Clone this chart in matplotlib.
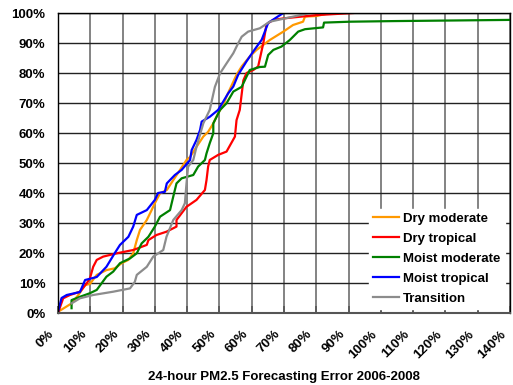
import matplotlib
matplotlib.use("Agg")
import matplotlib.pyplot as plt
from matplotlib.ticker import MultipleLocator, FuncFormatter
from matplotlib.transforms import ScaledTranslation

plt.rcParams['font.family'] = ['Liberation Sans', 'DejaVu Sans']
plt.rcParams['font.weight'] = 'bold'

# Forecasting error (%) vs cumulative frequency (%)
dry_moderate_x = [0, 4.2, 6.3, 8.4, 9.9, 12, 15, 17.6, 19.7, 21.8, 23.3, 24.4, 25.4, 27.5, 29, 30, 31.6, 33.7, 35.7,
                  37.8, 39.8, 40.9, 42.9, 45, 46.5, 48.1, 49.6, 51.2, 52.2, 55.3, 56.9, 59.4, 61.5, 65.6, 69.8,
                  72.8, 75.9, 76.5, 80.1, 84.2]
dry_moderate_y = [0.4, 3.2, 6, 9.3, 9.7, 12.7, 14.3, 14.9, 16.6, 17.7, 19.9, 24.3, 27.7, 31, 34.3, 36.6, 39.9, 41, 44.3,
                  47.7, 51, 52, 55.4, 58.8, 60.4, 63.2, 66.6, 69.3, 72.2, 79.4, 82.2, 85.5, 87.7, 91, 93.8,
                  96, 97.1, 98.8, 99, 100]

dry_tropical_x = [0, 1.6, 3.7, 6.8, 8.9, 9.9, 10.9, 12, 14, 18.2, 23.3, 27.5, 28, 30.5, 33.6, 36.7, 36.7, 39.8, 42.9,
                  45.5, 46, 46.5, 47, 49.6, 52.2, 54.8, 55.3, 56.3, 57.4, 58.4, 60.5, 62, 63.6, 64.6, 66.7, 69.8,
                  80.1, 91.4]
dry_tropical_y = [0, 4.9, 6, 7.1, 9.9, 11.6, 15.4, 17.7, 18.8, 19.9, 21, 22.7, 24.3, 26, 27.1, 28.8, 31, 35.4, 37.7,
                  41, 44.3, 48.8, 51, 52.7, 53.8, 58.8, 64.3, 67.7, 77.5, 80, 81, 82.2, 90, 96.3, 97.7, 98.2,
                  99.3, 100]

moist_moderate_x = [4.2, 4.2, 6.8, 9.9, 12, 13.5, 15, 17.1, 19.2, 22.3, 24.4, 25.9, 28, 30, 31.6, 34.7, 35.7, 36.7,
                    38.3, 41.9, 43.4, 45.5, 46, 47, 48.1, 48.1, 50.2, 52.2, 54.3, 56.9, 58.4, 59.4, 62.5, 64.1,
                    65.1, 66.7, 69.2, 71.8, 74.4, 76.5, 82.1, 82.4, 90.4, 103.8, 140]
moist_moderate_y = [1.6, 4.3, 5.4, 6.6, 7.7, 9.9, 12.1, 13.8, 16.6, 18.2, 19.9, 23.2, 25.4, 28.8, 32.1, 34.3, 38.8,
                    43.2, 44.9, 46, 48.8, 51, 53.2, 56.6, 59.9, 63.2, 67.7, 69.9, 73.8, 75.4, 78.8, 81, 82, 82.1,
                    86, 87.7, 88.8, 91, 93.8, 94.6, 95.2, 96.8, 97.1, 97.3, 97.7]

moist_tropical_x = [0, 1.1, 2.7, 6.8, 8.4, 12, 15, 17.6, 19.2, 21.8, 23.3, 24.4, 27.5, 30, 31, 33.1, 33.7, 36.2, 38.3,
                    40.9, 41.4, 42.9, 44, 44.5, 47, 49.6, 51.2, 52.7, 54.3, 55.8, 58.4, 60.5, 63.1, 64.1, 65.1,
                    68.2, 69.8]
moist_tropical_y = [0.4, 5, 6, 7, 11, 12, 15.4, 20, 22.7, 25.4, 28.8, 32.7, 34.3, 37.7, 40, 40.4, 43.2, 46, 47.7,
                    51, 54.3, 57.7, 61, 63.8, 65.4, 67.7, 70.5, 73.2, 75.5, 79.4, 83.9, 87.2, 91.1, 93.9, 96.7,
                    98.9, 100]

transition_x = [4.2, 6.8, 10.9, 17.1, 22.3, 23.8, 24.4, 27.5, 29.5, 32.6, 33.6, 35.7, 38.3, 39.3, 39.8, 40.3, 41.9,
                42.9, 45, 47, 48.6, 50.2, 52.2, 54.3, 55.8, 56.9, 58.9, 62.5, 65.6, 78]
transition_y = [3.2, 4.9, 6, 7.1, 8.2, 10.4, 12.7, 15.4, 18.8, 21, 25.4, 31, 34.3, 36.6, 43.2, 48.8, 51,
                55.4, 63.2, 67.7, 75.4, 79.9, 83.2, 86.6, 89.9, 92.1, 93.8, 94.9, 97.1, 100]

series = [
    ("Dry moderate", dry_moderate_x, dry_moderate_y, "#FF9900"),
    ("Dry tropical", dry_tropical_x, dry_tropical_y, "#FF0000"),
    ("Moist moderate", moist_moderate_x, moist_moderate_y, "#008000"),
    ("Moist tropical", moist_tropical_x, moist_tropical_y, "#0000FF"),
    ("Transition", transition_x, transition_y, "#8C8C8C"),
]

fig = plt.figure(figsize=(5.13, 3.85), dpi=100)
ax = fig.add_axes([58/513, 1 - 313/385, (510-58)/513, (313-13)/385])

for name, xs, ys, c in series:
    ax.plot(xs, ys, color=c, lw=1.6, label=name)

ax.set_xlim(0, 140)
ax.set_ylim(0, 100)
ax.xaxis.set_major_locator(MultipleLocator(10))
ax.yaxis.set_major_locator(MultipleLocator(10))
pct = FuncFormatter(lambda v, p: f"{int(round(v))}%")
ax.xaxis.set_major_formatter(pct)
ax.yaxis.set_major_formatter(pct)

ax.grid(axis='x', color='#7A7A7A', lw=1.3)
ax.grid(axis='y', color='#222222', lw=1.0)
ax.set_axisbelow(True)
for s in ax.spines.values():
    s.set_color('black')
    s.set_linewidth(1.0)
ax.spines['bottom'].set_color('#555555')
ax.spines['bottom'].set_linewidth(1.5)

ax.tick_params(axis='y', length=0, pad=9, labelsize=9.5)
ax.tick_params(axis='x', direction='in', length=5, width=1.2, color='#555555', pad=14, labelsize=9.5)
shift = ScaledTranslation(-4/72, 0, fig.dpi_scale_trans)
for lab in ax.get_xticklabels():
    lab.set_rotation(45)
    lab.set_ha('right')
    lab.set_va('center')
    lab.set_rotation_mode('anchor')
    lab.set_transform(lab.get_transform() + shift)

ax.set_xlabel("24-hour PM2.5 Forecasting Error 2006-2008", fontsize=9.5, fontweight='bold', labelpad=7)

leg = ax.legend(loc='upper left', bbox_to_anchor=(0.688, 0.347),
                frameon=True, fancybox=False, framealpha=1, edgecolor='white', facecolor='white',
                fontsize=9.5, handlelength=2.0, handletextpad=0.3, borderpad=0.3, labelspacing=0.58,
                borderaxespad=0)
leg.set_zorder(5)

fig.savefig("out.png", dpi=100)
